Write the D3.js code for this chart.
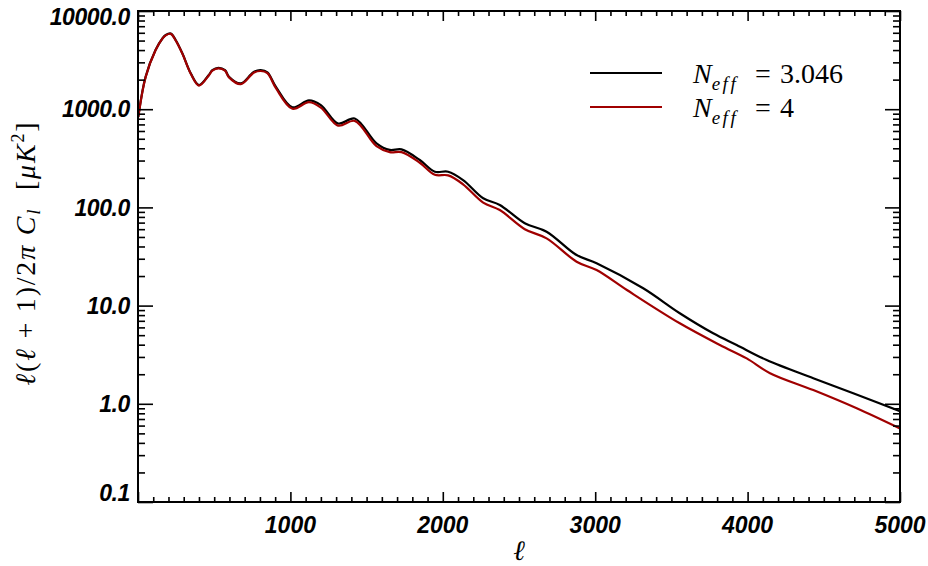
<!DOCTYPE html>
<html>
<head>
<meta charset="utf-8">
<script src="https://cdn.jsdelivr.net/npm/d3@7"></script>
<style>
  html, body { margin: 0; padding: 0; background: #fff; }
  svg { display: block; }
  .tick-lbl { font-family: "Liberation Sans", Arial, sans-serif; font-weight: bold; font-style: italic; font-size: 23px; fill: #000; }
  .serif { font-family: "Liberation Serif", "DejaVu Serif", serif; fill: #000; }
</style>
</head>
<body>
<div id="chart"></div>
<script>
// CMB temperature power spectrum, two N_eff values, log y.

// N_eff = 3.046
const ellBase = [2, 50, 115, 160, 182, 215, 247, 291, 346, 400, 466, 488, 528, 571, 597, 674, 740, 762, 805, 849, 904, 1013, 1122, 1200, 1313, 1422,
  1565, 1652, 1729, 1849, 1948, 2035, 2133, 2265, 2374, 2538, 2681, 2878, 3009, 3315, 3555, 3774, 3928, 4125, 4431, 4693, 5000];
const dlBase = [840, 2140, 4000, 5250, 5700, 5900, 5070, 3710, 2320, 1760, 2250, 2500, 2640, 2500, 2140, 1830, 2250, 2410, 2500, 2375, 1700, 1045, 1230, 1100, 715, 805,
  450, 385, 390, 304, 231, 231, 190, 124, 106, 69, 56.6, 32.7, 27.0, 15.0, 8.35, 5.22, 3.97, 2.79, 1.82, 1.28, 0.84];

// N_eff = 4
const ellN4 = [2, 50, 115, 160, 182, 215, 247, 291, 346, 400, 466, 488, 528, 571, 597, 674, 740, 762, 805, 849, 904, 1013, 1122, 1200, 1313, 1422,
  1565, 1652, 1729, 1849, 1948, 2035, 2133, 2265, 2374, 2538, 2681, 2878, 3009, 3208, 3555, 3818, 3994, 4147, 4431, 4716, 5000];
const dlN4 = [830, 2120, 3980, 5230, 5650, 5850, 5020, 3680, 2300, 1740, 2220, 2470, 2610, 2470, 2110, 1800, 2210, 2360, 2450, 2330, 1650, 1010, 1180, 1040, 680, 760,
  420, 365, 365, 285, 215, 212, 172, 112, 94, 60, 48.4, 28, 23, 14.4, 6.6, 3.97, 2.90, 2.05, 1.38, 0.90, 0.56];

const xMajor = [0, 1000, 2000, 3000, 4000, 5000];
const xLabels = ['', '1000', '2000', '3000', '4000', '5000'];
const yMajor = [0.1, 1, 10, 100, 1000, 10000];
const yLabels = ['0.1', '1.0', '10.0', '100.0', '1000.0', '10000.0'];

const series = [
  { name: '3.046', ell: ellBase, dl: dlBase, color: '#000000' },
  { name: '4', ell: ellN4, dl: dlN4, color: '#a00000' }
];

const W = 928, H = 566;
const margin = { top: 11, right: 28, bottom: 64, left: 138 };
const innerW = W - margin.left - margin.right;
const innerH = H - margin.top - margin.bottom;

const svg = d3.select('#chart').append('svg').attr('width', W).attr('height', H);
const g = svg.append('g').attr('transform', `translate(${margin.left},${margin.top})`);

const x = d3.scaleLinear().domain([0, 5000]).range([0, innerW]);
const y = d3.scaleLog().domain([0.1, 10000]).range([innerH, 0]);

const xMinor = d3.range(0, 5001, 100).filter((v) => v % 1000 !== 0);
const yMinor = [];
yMajor.slice(0, -1).forEach((d) => { for (let k = 2; k <= 9; k++) yMinor.push(d * k); });

// curves
g.append('clipPath').attr('id', 'clip').append('rect').attr('width', innerW).attr('height', innerH);
const line = d3.line().x((d) => x(d[0])).y((d) => y(d[1])).curve(d3.curveCatmullRom.alpha(0.5));
series.forEach((s) => {
  g.append('path')
    .datum(s.ell.map((e, i) => [e, s.dl[i]]))
    .attr('clip-path', 'url(#clip)')
    .attr('fill', 'none').attr('stroke', s.color).attr('stroke-width', 2.2)
    .attr('d', line);
});

// ticks (inward on all four sides)
function ticks(axisFn, scale, vals, size, tr) {
  const a = g.append('g').attr('transform', tr)
    .call(axisFn(scale).tickValues(vals).tickSize(-size).tickFormat(''));
  a.select('.domain').remove();
  a.selectAll('line').attr('stroke', '#000').attr('stroke-width', 1.6);
}
ticks(d3.axisBottom, x, xMajor, 10, `translate(0,${innerH})`);
ticks(d3.axisBottom, x, xMinor, 5, `translate(0,${innerH})`);
ticks(d3.axisTop, x, xMajor, 10, 'translate(0,0)');
ticks(d3.axisTop, x, xMinor, 5, 'translate(0,0)');
ticks(d3.axisLeft, y, yMajor, 15, 'translate(0,0)');
ticks(d3.axisLeft, y, yMinor, 7, 'translate(0,0)');
ticks(d3.axisRight, y, yMajor, 15, `translate(${innerW},0)`);
ticks(d3.axisRight, y, yMinor, 7, `translate(${innerW},0)`);

g.append('rect').attr('width', innerW).attr('height', innerH)
  .attr('fill', 'none').attr('stroke', '#000').attr('stroke-width', 2);

// tick labels
g.selectAll('.xl').data(xMajor).enter().append('text')
  .attr('class', 'tick-lbl').attr('text-anchor', 'middle')
  .attr('x', (d) => x(d)).attr('y', innerH + 31)
  .text((d, i) => xLabels[i]);

g.selectAll('.yl').data(yMajor).enter().append('text')
  .attr('class', 'tick-lbl').attr('text-anchor', 'end').attr('letter-spacing', -0.4)
  .attr('x', -8).attr('y', (d) => Math.min(innerH - 9, Math.max(6, y(d))))
  .attr('dy', '0.36em')
  .text((d, i) => yLabels[i]);

// axis titles
svg.append('text').attr('class', 'serif').attr('font-style', 'italic').attr('font-size', 28)
  .attr('text-anchor', 'middle').attr('x', margin.left + x(2500)).attr('y', 560).text('ℓ');

const yt = svg.append('text').attr('class', 'serif').attr('font-size', 28).attr('letter-spacing', 1.8)
  .attr('text-anchor', 'middle').attr('transform', 'translate(35,253) rotate(-90)');
yt.append('tspan').attr('font-style', 'italic').text('ℓ');
yt.append('tspan').text('(');
yt.append('tspan').attr('font-style', 'italic').text('ℓ');
yt.append('tspan').text(' + 1)/2');
yt.append('tspan').attr('font-style', 'italic').text('π C');
yt.append('tspan').attr('font-style', 'italic').attr('font-size', 19).attr('dy', 5).text('l');
yt.append('tspan').attr('dy', -5).text('\u00a0\u00a0[');
yt.append('tspan').attr('font-style', 'italic').text('μK');
yt.append('tspan').attr('font-size', 18).attr('dy', -11).text('2');
yt.append('tspan').attr('dy', 11).text(']');

// legend
series.forEach((s, i) => {
  const ly = 73 + i * 34;
  svg.append('line').attr('x1', 590).attr('x2', 662).attr('y1', ly).attr('y2', ly)
    .attr('stroke', s.color).attr('stroke-width', 2);
  const t = svg.append('text').attr('class', 'serif').attr('font-size', 28)
    .attr('x', 693).attr('y', ly + 10);
  t.append('tspan').attr('font-style', 'italic').text('N');
  t.append('tspan').attr('font-style', 'italic').attr('font-size', 19).attr('letter-spacing', 2.5)
    .attr('dy', 7).text('eff');
  t.append('tspan').attr('x', 755).attr('dy', -7).text('=');
  t.append('tspan').attr('x', 780).text(s.name);
});
</script>
</body>
</html>
